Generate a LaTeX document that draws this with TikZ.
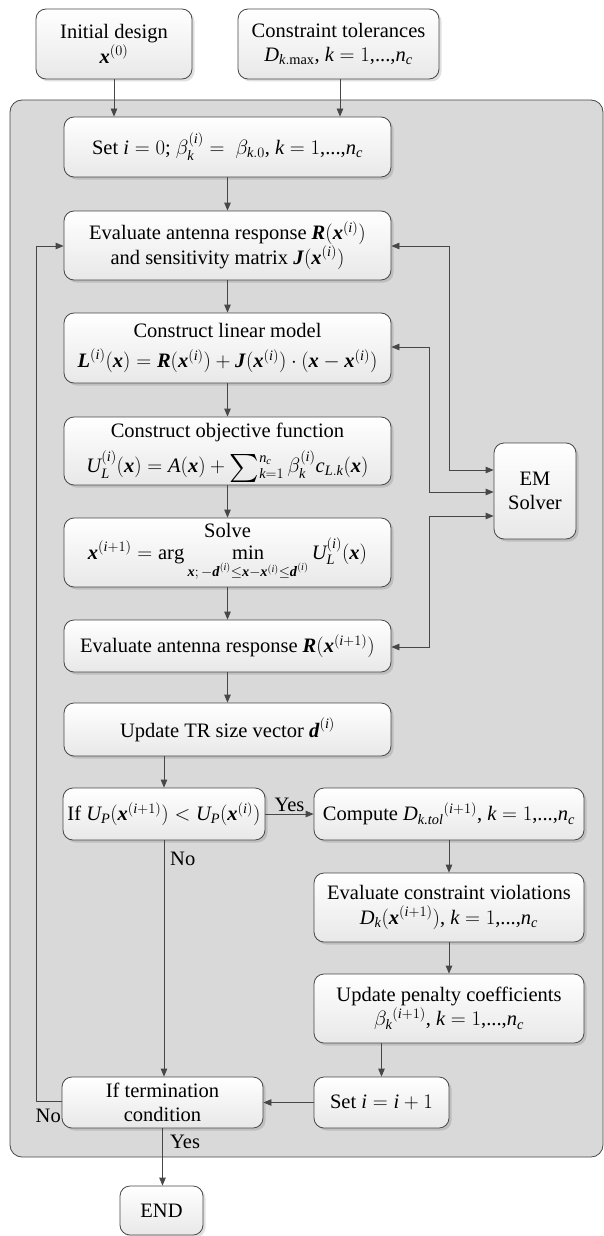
\documentclass[tikz,border=0pt]{standalone}
\usepackage{amsmath}
\usepackage{graphicx}
\usepackage{fontspec}
\setmainfont{Liberation Serif}
\usetikzlibrary{arrows.meta,shadows}
\newcommand{\mi}[1]{\textit{#1}}
\newcommand{\bv}[1]{\textbf{\textit{#1}}}
\newcommand{\nc}{\mi{n}_{\mi{c}}}
\newcommand{\bigsum}{\mathop{\vphantom{\sum}\smash{\raisebox{-0.12em}{\scalebox{1.35}{$\sum$}}}}}
\tikzset{
  flowbox/.style={draw=black!72, line width=0.8pt, rounded corners=10pt,
    top color=white, bottom color=black!9, align=center, inner sep=0pt,
    drop shadow={shadow xshift=2.5pt, shadow yshift=-2.5pt, opacity=0.12, fill=black},
    font=\fontsize{20.5}{24.5}\selectfont},
  conn/.style={draw=black!72, line width=0.8pt, -{Triangle[length=8pt,width=6.5pt]}},
  bconn/.style={draw=black!72, line width=0.8pt, {Triangle[length=8pt,width=6.5pt]}-{Triangle[length=8pt,width=6.5pt]}},
  lbl/.style={inner sep=0pt, font=\fontsize{20.5}{24}\selectfont}
}
\begin{document}
\begin{tikzpicture}[x=1pt,y=-1pt]
\useasboundingbox (0,0) rectangle (604,1236);
% panel
\path[fill=black!15, draw=black!72, line width=0.8pt, rounded corners=12pt] (10,100) rectangle (603,1157);
% nodes
\node[flowbox, minimum width=156pt, minimum height=70pt] (init) at (114,44) {Initial design\\ $\bv{x}^{(0)}$};
\node[flowbox, minimum width=201pt, minimum height=70pt] (tol) at (338.5,44) {Constraint tolerances\\ $\mi{D}_{\mi{k}.\mathrm{max}}$, $\mi{k} = 1$,...,$\nc$};
\node[flowbox, minimum width=327pt, minimum height=60pt] (set0) at (227.5,147) {Set $\mi{i} = 0$; $\beta_{\mi{k}}^{(\mi{i})} = ~\beta_{\mi{k}.0}$, $\mi{k} = 1$,...,$\nc$};
\node[flowbox, minimum width=327pt, minimum height=69pt] (eval) at (227.5,245.5) {Evaluate antenna response $\bv{R}(\bv{x}^{(\mi{i})})$\\ and sensitivity matrix $\bv{J}(\bv{x}^{(\mi{i})})$};
\node[flowbox, minimum width=327pt, minimum height=70pt] (lin) at (227.5,348) {Construct linear model\\[6pt] $\bv{L}^{(\mi{i})}(\bv{x}) = \bv{R}(\bv{x}^{(\mi{i})}) + \bv{J}(\bv{x}^{(\mi{i})})\cdot(\bv{x} - \bv{x}^{(\mi{i})})$};
\node[flowbox, minimum width=327pt, minimum height=68pt] (obj) at (227.5,451) {Construct objective function\\[8pt] $\mi{U}_{\mi{L}}^{(\mi{i})}(\bv{x}) = \mi{A}(\bv{x}) + \bigsum\nolimits_{\mi{k}=1}^{\nc} \beta_{\mi{k}}^{(\mi{i})} \mi{c}_{\mi{L}.\mi{k}}(\bv{x})$};
\node[flowbox, minimum width=327pt, minimum height=69pt] (solve) at (227.5,552.5) {Solve\\[-3pt] $\bv{x}^{(\mi{i}+1)} = \arg \min\limits_{\bv{x};\,-\bv{d}^{(\mi{i})} \le \bv{x} - \bv{x}^{(\mi{i})} \le \bv{d}^{(\mi{i})}} \mi{U}_{\mi{L}}^{(\mi{i})}(\bv{x})$};
\node[flowbox, minimum width=327pt, minimum height=52pt] (evalR) at (227.5,646) {Evaluate antenna response $\bv{R}(\bv{x}^{(\mi{i}+1)})$};
\node[flowbox, minimum width=327pt, minimum height=53pt] (upd) at (227.5,729.5) {Update TR size vector $\bv{d}^{(\mi{i})}$};
\node[flowbox, minimum width=202pt, minimum height=52pt] (ifu) at (164,814) {If $\mi{U}_{\mi{P}}(\bv{x}^{(\mi{i}+1)}) < \mi{U}_{\mi{P}}(\bv{x}^{(\mi{i})})$};
\node[flowbox, minimum width=270pt, minimum height=52pt] (comp) at (449,814) {Compute $\mi{D}_{\mi{k.tol}}{}^{(\mi{i}+1)}$, $\mi{k} = 1$,...,$\nc$};
\node[flowbox, minimum width=270pt, minimum height=69pt] (viol) at (449,907.5) {Evaluate constraint violations\\ $\mi{D}_{\mi{k}}(\bv{x}^{(\mi{i}+1)})$, $\mi{k} = 1$,...,$\nc$};
\node[flowbox, minimum width=270pt, minimum height=69pt] (pen) at (449,1008.5) {Update penalty coefficients\\ $\beta_{\mi{k}}{}^{(\mi{i}+1)}$, $\mi{k} = 1$,...,$\nc$};
\node[flowbox, minimum width=135pt, minimum height=51pt] (seti) at (381.5,1102.5) {Set $\mi{i} = \mi{i} + 1$};
\node[flowbox, minimum width=201pt, minimum height=51pt] (term) at (162.5,1102.5) {If termination\\ condition};
\node[flowbox, minimum width=83pt, minimum height=49pt] (endn) at (161.5,1210.5) {END};
\node[flowbox, minimum width=82pt, minimum height=96pt] (em) at (535,491) {EM\\ Solver};
% connectors
\draw[conn] (init.south) -- (init.south |- set0.north);
\draw[conn] (340,79) coordinate (tolout) -- (tolout |- set0.north);
\draw[conn] (set0) -- (eval);
\draw[conn] (eval) -- (lin);
\draw[conn] (lin) -- (obj);
\draw[conn] (obj) -- (solve);
\draw[conn] (solve) -- (evalR);
\draw[conn] (evalR) -- (upd);
\draw[conn] (ifu.north |- upd.south) -- (ifu.north);
\draw[conn] (ifu.east) -- (comp.west) node[lbl, midway, above=2pt] {Yes};
\draw[conn] (comp) -- (viol);
\draw[conn] (viol) -- (pen);
\draw[conn] (seti.north |- pen.south) -- (seti.north);
\draw[conn] (seti.west) -- (term.east);
\draw[conn] (ifu.south) -- (ifu.south |- term.north);
\node[lbl, anchor=west] (nolbl) at (170,859) {No};
\coordinate (tl) at (62,1101);
\draw[conn] (tl) -- (36,1101) -- (36,246) -- (eval.west |- 0,246);
\node[lbl, anchor=east] (nolbl2) at (61,1116) {No};
\draw[conn] (term.south) -- (term.south |- endn.north);
\node[lbl, anchor=west] (yeslbl) at (170,1142) {Yes};
% EM solver links
\draw[bconn] (eval.east |- 0,246) -- (449,246) -- (449,470) -- (em.west |- 0,470);
\draw[bconn] (lin.east |- 0,347) -- (429,347) -- (429,492) -- (em.west |- 0,492);
\draw[bconn] (evalR.east |- 0,647) -- (429,647) -- (429,516) -- (em.west |- 0,516);
\end{tikzpicture}
\end{document}
